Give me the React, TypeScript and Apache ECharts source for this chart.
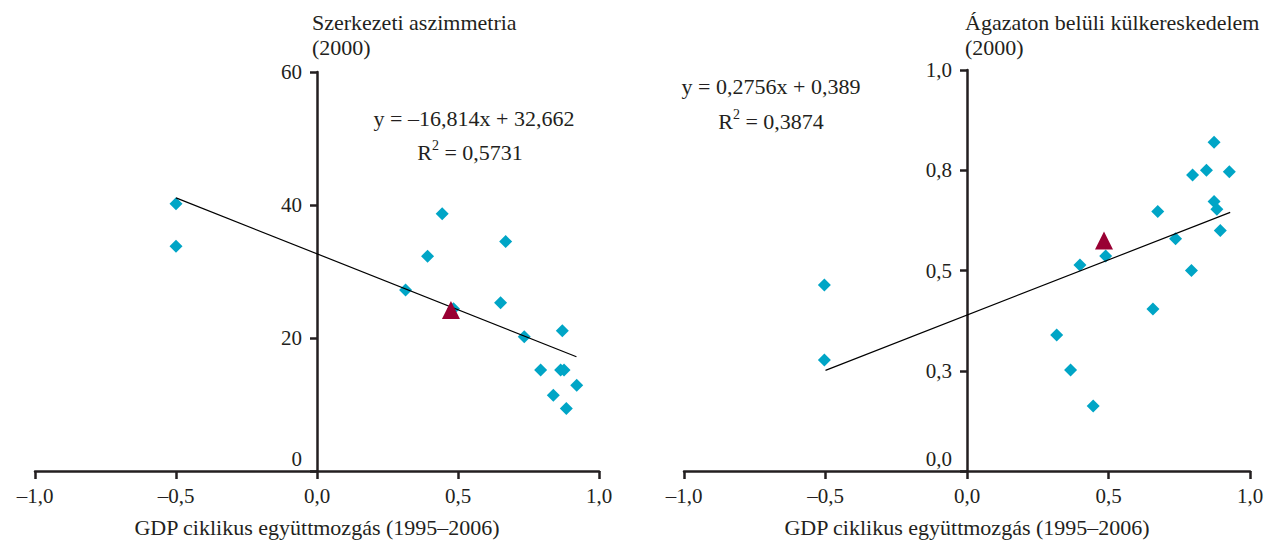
import React, { useEffect, useRef } from "react";
import * as echarts from "echarts";

// ---- data ----
const xTicks = [-1, -0.5, 0, 0.5, 1];
const xTickLabels = ["–1,0", "–0,5", "0,0", "0,5", "1,0"];

const leftYTicks = [0, 20, 40, 60];
const leftYTickLabels = ["0", "20", "40", "60"];
const rightYTicks = [0, 0.25, 0.5, 0.75, 1];
const rightYTickLabels = ["0,0", "0,3", "0,5", "0,8", "1,0"];

// Structural asymmetry (2000) vs GDP co-movement
const asymX = [-0.5, -0.5, 0.444, 0.392, 0.669, 0.314, 0.484, 0.651, 0.735, 0.87, 0.793, 0.864, 0.876, 0.921, 0.838, 0.884];
const asymY = [40.2, 33.8, 38.7, 32.3, 34.5, 27.2, 24.4, 25.3, 20.2, 21.1, 15.2, 15.2, 15.2, 12.9, 11.4, 9.4];
const asymHU = [0.475, 24.2];
const asymTrend = [[-0.5, 41.07], [0.92, 17.19]];

// Intra-industry trade (2000) vs GDP co-movement
const iitX = [-0.504, -0.504, 0.317, 0.366, 0.446, 0.399, 0.49, 0.674, 0.657, 0.737, 0.793, 0.797, 0.846, 0.927, 0.873, 0.873, 0.883, 0.895];
const iitY = [0.464, 0.277, 0.339, 0.252, 0.162, 0.514, 0.536, 0.647, 0.404, 0.579, 0.5, 0.738, 0.75, 0.746, 0.82, 0.672, 0.653, 0.6];
const iitHU = [0.484, 0.575];
const iitTrend = [[-0.5, 0.251], [0.93, 0.645]];

const leftTitle = ["Szerkezeti aszimmetria", "(2000)"];
const rightTitle = ["Ágazaton belüli külkereskedelem", "(2000)"];
const xName = "GDP ciklikus együttmozgás (1995–2006)";
const leftEq = ["y = –16,814x + 32,662", "0,5731"];
const rightEq = ["y = 0,2756x + 0,389", "0,3874"];

const FONT = '"Liberation Serif", "DejaVu Serif", serif';
const INK = "#231f20";
const TEAL = "#00a5c6";
const CRIMSON = "#990033";

export default function App() {
  const ref = useRef<HTMLDivElement>(null);
  useEffect(() => {
    if (!ref.current) return;
    const chart = echarts.init(ref.current, undefined, { renderer: "svg" });

    const xAxisBase = (gridIndex: number) => ({
      type: "value",
      gridIndex,
      min: -1,
      max: 1,
      interval: 0.5,
      name: xName,
      nameLocation: "middle",
      nameGap: 45,
      nameTextStyle: { fontFamily: FONT, fontSize: 22, color: INK },
      axisLine: { onZero: false, lineStyle: { color: INK, width: 2.5 } },
      axisTick: { show: true, length: 8, lineStyle: { color: INK, width: 2.5 } },
      axisLabel: {
        fontFamily: FONT,
        fontSize: 21,
        color: INK,
        margin: 14,
        formatter: (v: number) => {
          const i = xTicks.findIndex((t) => Math.abs(t - v) < 1e-9);
          return i >= 0 ? xTickLabels[i] : "";
        },
      },
      splitLine: { show: false },
    });

    const yAxisBase = (
      gridIndex: number,
      ticks: number[],
      labels: string[],
      max: number,
      interval: number,
      offset: number
    ) => ({
      type: "value",
      gridIndex,
      min: 0,
      max,
      interval,
      offset,
      axisLine: { show: true, onZero: false, lineStyle: { color: INK, width: 2.5 } },
      axisTick: { show: true, length: 7, lineStyle: { color: INK, width: 2.5 } },
      axisLabel: {
        fontFamily: FONT,
        fontSize: 21,
        color: INK,
        margin: 15,
        formatter: (v: number) => {
          const i = ticks.findIndex((t) => Math.abs(t - v) < 1e-9);
          if (i < 0) return "";
          return i === 0 ? "{z|" + labels[i] + "}" : labels[i];
        },
        rich: { z: { fontFamily: FONT, fontSize: 21, color: INK, padding: [0, 0, 24, 0] } },
      },
      splitLine: { show: false },
    });

    const scatterStyle = {
      type: "scatter",
      symbol: "diamond",
      symbolSize: 13,
      itemStyle: { color: TEAL, opacity: 1 },
      z: 3,
    };

    const textEl = (x: number, y: number, text: string, align = "left", size = 22) => ({
      type: "text",
      x,
      y,
      style: { text, font: `${size}px ${FONT}`, fill: INK, align, verticalAlign: "middle" },
    });
    const r2El = (x: number, y: number, val: string) => ({
      type: "text",
      x,
      y,
      style: {
        text: "R{s|2} = " + val,
        font: `22px ${FONT}`,
        fill: INK,
        align: "center",
        verticalAlign: "middle",
        rich: {
          s: { fontFamily: FONT, fontSize: 14, fill: INK, padding: [0, 0, 14, 0] },
        },
      },
    });

    chart.setOption({
      animation: false,
      textStyle: { fontFamily: FONT },
      grid: [
        { left: 35, top: 72, width: 564, height: 399, outerBoundsMode: "none", containLabel: false },
        { left: 684, top: 70, width: 566, height: 401, outerBoundsMode: "none", containLabel: false },
      ],
      xAxis: [xAxisBase(0), xAxisBase(1)],
      yAxis: [
        yAxisBase(0, leftYTicks, leftYTickLabels, 60, 20, -282),
        yAxisBase(1, rightYTicks, rightYTickLabels, 1, 0.25, -283),
      ],
      series: [
        { ...scatterStyle, xAxisIndex: 0, yAxisIndex: 0, data: asymX.map((x, i) => [x, asymY[i]]) },
        {
          type: "line",
          xAxisIndex: 0,
          yAxisIndex: 0,
          data: asymTrend,
          showSymbol: false,
          symbol: "none",
          lineStyle: { color: "#000", width: 1.2 },
          z: 4,
        },
        {
          type: "scatter",
          xAxisIndex: 0,
          yAxisIndex: 0,
          symbol: "triangle",
          symbolSize: 18,
          itemStyle: { color: CRIMSON, opacity: 1 },
          data: [asymHU],
          z: 5,
        },
        { ...scatterStyle, xAxisIndex: 1, yAxisIndex: 1, data: iitX.map((x, i) => [x, iitY[i]]) },
        {
          type: "line",
          xAxisIndex: 1,
          yAxisIndex: 1,
          data: iitTrend,
          showSymbol: false,
          symbol: "none",
          lineStyle: { color: "#000", width: 1.2 },
          z: 4,
        },
        {
          type: "scatter",
          xAxisIndex: 1,
          yAxisIndex: 1,
          symbol: "triangle",
          symbolSize: 18,
          itemStyle: { color: CRIMSON, opacity: 1 },
          data: [iitHU],
          z: 5,
        },
      ],
      graphic: [
        textEl(312, 22, leftTitle[0]),
        textEl(312, 47, leftTitle[1]),
        textEl(965, 22, rightTitle[0]),
        textEl(965, 47, rightTitle[1]),
        textEl(474, 118, leftEq[0], "center"),
        r2El(470, 152, leftEq[1]),
        textEl(771, 86, rightEq[0], "center"),
        r2El(771, 121, rightEq[1]),
      ],
    });
    return () => chart.dispose();
  }, []);

  return (
    <div
      ref={ref}
      style={{ position: "fixed", left: 0, top: 0, width: 1266, height: 541, background: "#fff" }}
    />
  );
}
